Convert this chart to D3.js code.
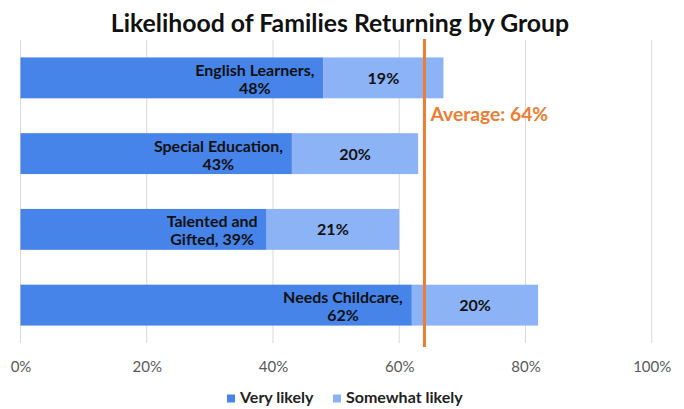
<!DOCTYPE html>
<html>
<head>
<meta charset="utf-8">
<script src="https://cdn.jsdelivr.net/npm/d3@7"></script>
<style>
  html, body { margin: 0; padding: 0; background: #fff; }
  svg { display: block; font-family: Lato, "Open Sans", sans-serif; }
</style>
</head>
<body>
<svg id="chart" width="684" height="409"></svg>
<script>
// Survey groups, top to bottom
const categories = ["English Learners", "Special Education", "Talented and Gifted", "Needs Childcare"];
// Share of families answering each option (%)
const veryLikely = [48, 43, 39, 62];
const somewhatLikely = [19, 20, 21, 20];
// Overall average likelihood (%)
const averageValue = 64;
// Axis ticks (%)
const tickValues = [0, 20, 40, 60, 80, 100];
const seriesNames = ["Very likely", "Somewhat likely"];

const colors = { very: "#4684ea", somewhat: "#8cb3f6", avg: "#ed7d31", grid: "#d9d9d9" };

const W = 684, H = 409;
const margin = { top: 40, right: 32, bottom: 66, left: 20.5 };
const svg = d3.select("#chart");

const x = d3.scaleLinear().domain([0, 100]).range([margin.left, 651.7]);
const y = d3.scaleBand().domain(categories).range([margin.top, H - margin.bottom]).paddingInner(0.46).paddingOuter(0.23);

// Title
svg.append("text")
  .attr("x", 340).attr("y", 32)
  .attr("text-anchor", "middle")
  .style("font-size", "24.8px").style("font-weight", 700).style("fill", "#111")
  .text("Likelihood of Families Returning by Group");

// Vertical gridlines
svg.append("g").selectAll("line").data(tickValues).join("line")
  .attr("x1", d => x(d)).attr("x2", d => x(d))
  .attr("y1", margin.top).attr("y2", H - margin.bottom)
  .attr("stroke", colors.grid).attr("stroke-width", 1);

// Tick labels via d3 axis
const axis = d3.axisBottom(x).tickValues(tickValues).tickFormat(d => d + "%").tickSize(0).tickPadding(0);
const axisG = svg.append("g").attr("transform", `translate(0, ${H - margin.bottom})`).call(axis);
axisG.select(".domain").remove();
axisG.selectAll("text")
  .attr("y", 29).attr("dy", 0)
  .style("font-family", "Lato, sans-serif").style("font-size", "15px").style("fill", "#595959");

// Stacked bars
const rows = categories.map((c, i) => ({ cat: c, very: veryLikely[i], some: somewhatLikely[i] }));
const barG = svg.append("g");
barG.selectAll("rect.very").data(rows).join("rect").attr("class", "very")
  .attr("x", x(0)).attr("y", d => y(d.cat))
  .attr("width", d => x(d.very) - x(0)).attr("height", y.bandwidth())
  .attr("fill", colors.very);
barG.selectAll("rect.some").data(rows).join("rect").attr("class", "some")
  .attr("x", d => x(d.very)).attr("y", d => y(d.cat))
  .attr("width", d => x(d.very + d.some) - x(d.very)).attr("height", y.bandwidth())
  .attr("fill", colors.somewhat);

// Inside-end labels for the "Very likely" segment: "Category, NN%" split over two lines
const labelSize = 16;
rows.forEach(d => {
  const words = `${d.cat}, ${d.very}%`.split(" ");
  const lines = [words.slice(0, 2).join(" "), words.slice(2).join(" ")];
  const cy = y(d.cat) + y.bandwidth() / 2;
  const t = barG.append("text")
    .attr("text-anchor", "middle")
    .style("font-size", labelSize + "px").style("font-weight", 700).style("fill", "#111");
  const spans = lines.map((ln, k) => t.append("tspan").attr("y", cy - 2 + k * 18).text(ln));
  const maxW = d3.max(spans, s => s.node().getComputedTextLength());
  const cx = x(d.very) - 9 - maxW / 2;
  spans.forEach(s => s.attr("x", cx));
});

// Centered labels for the "Somewhat likely" segment
barG.selectAll("text.some").data(rows).join("text").attr("class", "some")
  .attr("x", d => (x(d.very) + x(d.very + d.some)) / 2)
  .attr("y", d => y(d.cat) + y.bandwidth() / 2 + 6)
  .attr("text-anchor", "middle")
  .style("font-size", labelSize + "px").style("font-weight", 700).style("fill", "#111")
  .text(d => d.some + "%");

// Average reference line
svg.append("line")
  .attr("x1", x(averageValue)).attr("x2", x(averageValue))
  .attr("y1", margin.top - 1).attr("y2", H - margin.bottom + 4)
  .attr("stroke", colors.avg).attr("stroke-width", 3);
svg.append("text")
  .attr("x", x(averageValue) + 6).attr("y", 121)
  .style("font-size", "19.3px").style("font-weight", 700).style("fill", colors.avg)
  .text(`Average: ${averageValue}%`);

// Legend
const legend = svg.append("g").attr("transform", "translate(0, 403)");
const legendX = [227, 333];
const legendColors = [colors.very, colors.somewhat];
seriesNames.forEach((name, i) => {
  legend.append("rect").attr("x", legendX[i]).attr("y", -8.5).attr("width", 8).attr("height", 8)
    .attr("fill", legendColors[i]);
  legend.append("text").attr("x", legendX[i] + 13).attr("y", 0)
    .style("font-size", "16px").style("font-weight", 700).style("fill", "#222")
    .text(name);
});
</script>
</body>
</html>
